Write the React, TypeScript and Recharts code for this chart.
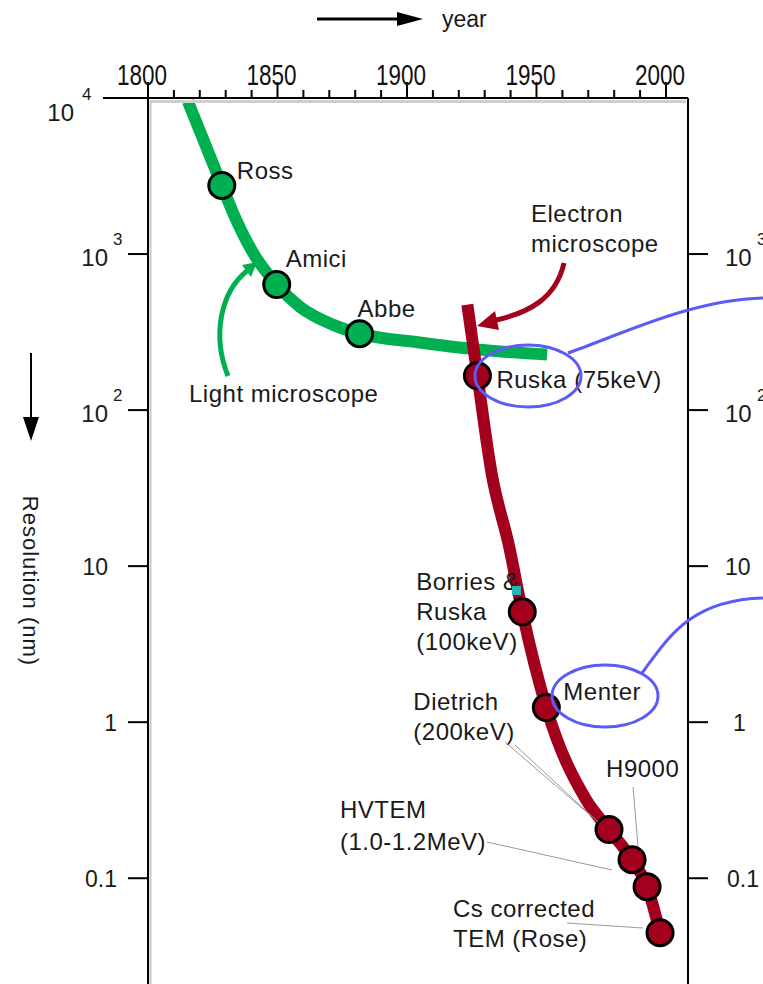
import { ComposedChart, Line, Scatter, XAxis, YAxis } from 'recharts'

// light microscope curve (year, resolution nm)
const lightYears = [1815.4, 1828.5, 1832.8, 1840.5, 1849.7, 1858.6, 1871.3, 1881.7, 1904.8, 1927.9, 1954.1]
const lightRes = [9500, 2750, 1845, 1023, 637, 460, 353, 309, 271, 244, 227]

// electron microscope curve
const electronYears = [1923.3, 1927.2, 1932.6, 1939.5, 1944.5, 1953.8, 1969.2, 1978.0, 1986.9, 1992.7, 1997.7]
const electronRes = [474, 166, 40, 13.2, 5.1, 1.24, 0.318, 0.205, 0.1315, 0.0883, 0.0448]

// milestone instruments
const lightNames = ['Ross', 'Amici', 'Abbe']
const lightPtYears = [1828.5, 1849.7, 1881.7]
const lightPtRes = [2750, 637, 309]

const emNames = ['Ruska', 'Borries & Ruska', 'Dietrich', 'HVTEM', 'H9000', 'HVTEM2', 'Rose']
const emPtYears = [1927.2, 1944.5, 1953.8, 1978.0, 1986.9, 1992.7, 1997.7]
const emPtRes = [166, 5.1, 1.24, 0.205, 0.1315, 0.0883, 0.0448]

const yearTicks = [1800, 1810, 1820, 1830, 1840, 1850, 1860, 1870, 1880, 1890, 1900, 1910, 1920, 1930, 1940, 1950, 1960, 1970, 1980, 1990, 2000]
const leftTicks = [0.1, 1, 10, 100, 1000, 10000]
const rightTicks = [0.1, 1, 10, 100, 1000]

const labelGroups: Record<string, { lines: string[]; dx: number; dy: number; lh?: number }[]> = {
  Ross: [{ lines: ['Ross'], dx: 15, dy: -6 }],
  Amici: [{ lines: ['Amici'], dx: 9, dy: -18 }],
  Abbe: [{ lines: ['Abbe'], dx: -2, dy: -17 }],
  Ruska: [{ lines: ['Ruska (75keV)'], dx: 19, dy: 12 }],
  'Borries & Ruska': [{ lines: ['Borries &', 'Ruska', '(100keV)'], dx: -106, dy: -22, lh: 30 }],
  Dietrich: [
    { lines: ['Dietrich', '(200keV)'], dx: -133, dy: 2, lh: 30 },
    { lines: ['Menter'], dx: 17, dy: -8 },
  ],
  HVTEM: [{ lines: ['HVTEM', '(1.0-1.2MeV)'], dx: -269, dy: -12, lh: 32 }],
  H9000: [{ lines: ['H9000'], dx: -26, dy: -83 }],
  Rose: [{ lines: ['Cs corrected', 'TEM (Rose)'], dx: -207, dy: -16, lh: 30 }],
}

const GREEN = '#00b050'
const RED = '#a3001e'
const BLUE = '#5a5cf6'
const FONT = '"Liberation Sans", Arial, Helvetica, sans-serif'
const INK = '#1a1a1a'

const lightLine = lightYears.map((year, i) => ({ year, res: lightRes[i] }))
const electronLine = electronYears.map((year, i) => ({ year, res: electronRes[i] }))
const lightPts = lightNames.map((name, i) => ({ name, year: lightPtYears[i], res: lightPtRes[i] }))
const emPts = emNames.map((name, i) => ({ name, year: emPtYears[i], res: emPtRes[i] }))
const allPts = [...lightPts, ...emPts]

function YearTick({ x, y, payload }: any) {
  const v = payload.value
  const major = v % 50 === 0
  return (
    <g>
      <line x1={x} x2={x} y1={y} y2={y - (major ? 16 : 8)} stroke="#000" strokeWidth={2} />
      {major && (
        <text x={x - 6} y={y - 13} textAnchor="middle" fontSize={29} textLength={50} lengthAdjust="spacingAndGlyphs" fontFamily={FONT} fill="#111">
          {v}
        </text>
      )}
    </g>
  )
}

function LeftTick({ x, y, payload }: any) {
  const v = payload.value
  const txt = { fontFamily: FONT, fill: INK }
  if (v === 10000) {
    return (
      <g>
        <line x1={x - 45} x2={x} y1={y} y2={y} stroke="#000" strokeWidth={2} />
        <text x={x - 74} y={y + 23} fontSize={24} textAnchor="end" {...txt}>10</text>
        <text x={x - 66} y={y + 2} fontSize={17} {...txt}>4</text>
      </g>
    )
  }
  let label: any
  if (v >= 100) {
    label = (
      <>
        <text x={x - 40} y={y + 12} fontSize={24} textAnchor="end" {...txt}>10</text>
        <text x={x - 35} y={y - 9} fontSize={17} {...txt}>{Math.round(Math.log10(v))}</text>
      </>
    )
  } else {
    label = (
      <text x={x - (v === 10 ? 40 : 31)} y={y + 9} fontSize={23} textAnchor="end" {...txt}>{String(v)}</text>
    )
  }
  return (
    <g>
      <line x1={x - 20} x2={x} y1={y} y2={y} stroke="#000" strokeWidth={2} />
      {label}
    </g>
  )
}

function RightTick({ x, y, payload }: any) {
  const v = payload.value
  const txt = { fontFamily: FONT, fill: INK }
  let label: any
  if (v >= 100) {
    label = (
      <>
        <text x={x + 37} y={y + 12} fontSize={24} {...txt}>10</text>
        <text x={x + 69} y={y - 9} fontSize={17} {...txt}>{Math.round(Math.log10(v))}</text>
      </>
    )
  } else {
    label = (
      <text x={x + (v === 10 ? 37 : v === 1 ? 45 : 39)} y={y + 9} fontSize={23} {...txt}>{String(v)}</text>
    )
  }
  return (
    <g>
      <line x1={x} x2={x + 20} y1={y} y2={y} stroke="#000" strokeWidth={2} />
      {label}
    </g>
  )
}

function LabelShape(p: any) {
  const groups = labelGroups[p.payload?.name]
  if (!groups) return <g />
  return (
    <g>
      {groups.map((g, gi) =>
        g.lines.map((line, li) => (
          <text
            key={`${gi}-${li}`}
            x={p.cx + g.dx}
            y={p.cy + g.dy + li * (g.lh ?? 30)}
            fontSize={24}
            letterSpacing={0.5}
            fontFamily={FONT}
            fill={INK}
          >
            {line}
          </text>
        )),
      )}
    </g>
  )
}

const dotShape = (fill: string) => (p: any) => (
  <circle cx={p.cx} cy={p.cy} r={13} fill={fill} stroke="#000" strokeWidth={3} />
)

function Overlay() {
  const txt = { fontFamily: FONT, fill: INK, fontSize: 24, letterSpacing: 0.5 }
  return (
    <svg width={763} height={984} style={{ position: 'absolute', left: 0, top: 0, pointerEvents: 'none' }}>
      {/* soft shadows along the frame */}
      <line x1={150} y1={101.5} x2={686} y2={101.5} stroke="#cfcfcf" strokeWidth={3} />
      <line x1={150.5} y1={100} x2={150.5} y2={984} stroke="#c8c8c8" strokeWidth={2} />

      {/* year arrow */}
      <line x1={317} y1={19} x2={400} y2={19} stroke="#000" strokeWidth={3} />
      <polygon points="397,12 423,19 397,26" fill="#000" />
      <text x={442} y={27} fontSize={23} fontFamily={FONT} fill={INK}>year</text>

      {/* resolution arrow + label */}
      <line x1={31} y1={353} x2={31} y2={420} stroke="#000" strokeWidth={2} />
      <polygon points="23,417 31,441 39,417" fill="#000" />
      <text x={30} y={581} transform="rotate(90 30 581)" textAnchor="middle" dominantBaseline="central" fontSize={22} letterSpacing={1} fontFamily={FONT} fill={INK}>
        Resolution (nm)
      </text>

      {/* light microscope arrow */}
      <text x={189} y={402} {...txt}>Light microscope</text>
      <path d="M228,376 C212,336 220,292 248,270" stroke={GREEN} strokeWidth={5} fill="none" />
      <polygon points="257,262 242,265 251,277" fill={GREEN} />

      {/* electron microscope arrow */}
      <text x={531} y={222} {...txt}>Electron</text>
      <text x={531} y={252} {...txt}>microscope</text>
      <path d="M564,263 C556,298 530,313 492,321" stroke={RED} strokeWidth={5} fill="none" />
      <polygon points="477,326 495,311 499,330" fill={RED} />

      {/* leader lines */}
      <g stroke="#9a9a9a" strokeWidth={1}>
        <line x1={505} y1={742} x2={590} y2={815} />
        <line x1={515} y1={745} x2={598} y2={822} />
        <line x1={487} y1={842} x2={612} y2={870} />
        <line x1={633} y1={787} x2={638} y2={846} />
        <line x1={567} y1={923} x2={643} y2={928} />
      </g>

      {/* teal marker */}
      <rect x={512} y={586} width={9} height={9} fill="#2ab3b3" />

      {/* blue callouts */}
      <ellipse cx={528} cy={376} rx={53} ry={31} fill="none" stroke={BLUE} strokeWidth={3} />
      <path d="M568,353 C620,335 690,300 763,298" fill="none" stroke={BLUE} strokeWidth={3} />
      <ellipse cx={605} cy={696} rx={53} ry={31} fill="none" stroke={BLUE} strokeWidth={3} />
      <path d="M642,673 C668,638 690,600 763,598" fill="none" stroke={BLUE} strokeWidth={3} />
    </svg>
  )
}

export default function App() {
  return (
    <div style={{ position: 'absolute', left: 0, top: 0, width: 763, height: 984, background: '#fff', overflow: 'hidden' }}>
      <ComposedChart width={763} height={984} margin={{ top: 0, right: 0, bottom: 0, left: 0 }}>
        <XAxis
          dataKey="year"
          type="number"
          orientation="top"
          height={98}
          domain={[1800, 2008.5]}
          allowDataOverflow
          ticks={yearTicks}
          interval={0}
          tickSize={0}
          tickMargin={0}
          tickLine={false}
          tick={YearTick}
          axisLine={{ stroke: '#000', strokeWidth: 2 }}
        />
        <YAxis
          yAxisId="l"
          dataKey="res"
          scale="log"
          domain={[0.021, 10000]}
          allowDataOverflow
          width={148}
          ticks={leftTicks}
          interval={0}
          tickSize={0}
          tickMargin={0}
          tickLine={false}
          tick={LeftTick}
          axisLine={{ stroke: '#000', strokeWidth: 2 }}
        />
        <YAxis
          yAxisId="r"
          orientation="right"
          scale="log"
          domain={[0.021, 10000]}
          allowDataOverflow
          width={75}
          ticks={rightTicks}
          interval={0}
          tickSize={0}
          tickMargin={0}
          tickLine={false}
          tick={RightTick}
          axisLine={{ stroke: '#000', strokeWidth: 2 }}
        />
        <Scatter yAxisId="l" data={allPts} dataKey="res" shape={LabelShape} isAnimationActive={false} />
        <Line yAxisId="l" data={lightLine} dataKey="res" type="monotone" stroke={GREEN} strokeWidth={12} dot={false} activeDot={false} isAnimationActive={false} />
        <Line yAxisId="l" data={electronLine} dataKey="res" type="monotone" stroke={RED} strokeWidth={12} dot={false} activeDot={false} isAnimationActive={false} />
        <Scatter yAxisId="l" data={lightPts} dataKey="res" shape={dotShape(GREEN)} isAnimationActive={false} />
        <Scatter yAxisId="l" data={emPts} dataKey="res" shape={dotShape(RED)} isAnimationActive={false} />
      </ComposedChart>
      <Overlay />
    </div>
  )
}
